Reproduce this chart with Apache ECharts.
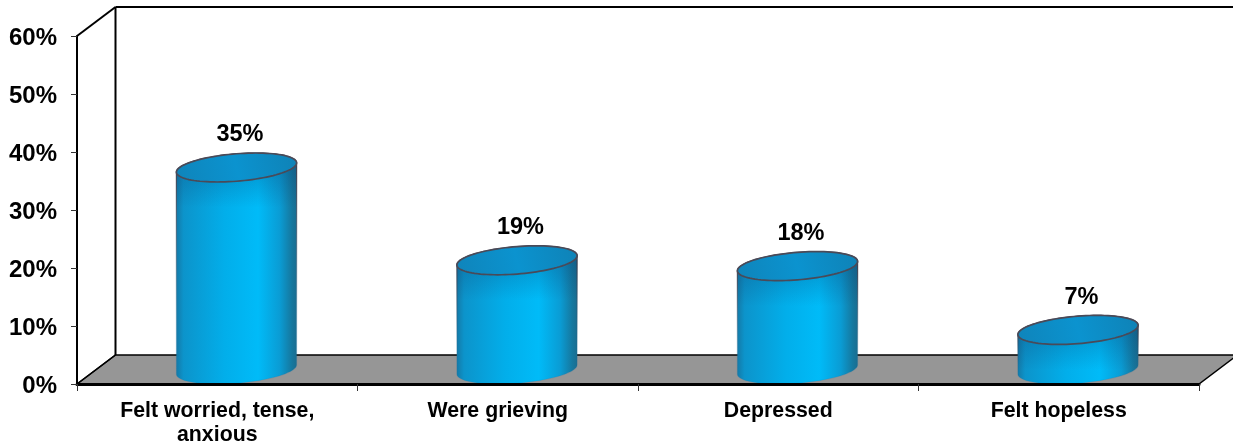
<!DOCTYPE html>
<html>
<head>
<meta charset="utf-8">
<script src="https://cdn.jsdelivr.net/npm/echarts@6/dist/echarts.min.js"></script>
<style>
html,body{margin:0;padding:0;background:#fff}
#chart{width:1233px;height:445px}
</style>
</head>
<body>
<div id="chart"></div>
<script>
const categories = ['Felt worried, tense,\nanxious', 'Were grieving', 'Depressed', 'Felt hopeless'];
const shares = [35, 19, 18, 7];
const axisMax = 60;
const axisStep = 10;

// Oblique projection of the chart box: how far the back wall sits from the front plane.
const DEPTH_X = 38.5;
const DEPTH_Y = -29;
const CYLINDER_RATIO = 0.406;
const FONT = '"Liberation Sans", Arial, sans-serif';

const chart = echarts.init(document.getElementById('chart'), null, {renderer: 'canvas'});

// A circle lying on the floor plane, seen through the oblique projection.
function ring(cx, cy, a, from, to, steps) {
  const pts = [];
  for (let i = 0; i <= steps; i++) {
    const t = from + (to - from) * i / steps;
    pts.push([cx + a * Math.cos(t) + (DEPTH_X / 2) * Math.sin(t),
              cy + (DEPTH_Y / 2) * Math.sin(t)]);
  }
  return pts;
}

function renderFrame(params, api) {
  const left = params.coordSys.x;
  const w = params.coordSys.width;
  const floorY = api.coord([0, 0])[1];
  const topY = api.coord([0, axisMax])[1];
  const bx = left + DEPTH_X, by = floorY + DEPTH_Y, ty = topY + DEPTH_Y;
  const line = (x1, y1, x2, y2, width) => ({
    type: 'line',
    shape: {x1, y1, x2, y2},
    style: {stroke: '#000', lineWidth: width || 2}
  });
  return {
    type: 'group',
    children: [
      {type: 'polygon',
       shape: {points: [[left, floorY], [bx, by], [bx + w, by], [left + w, floorY]]},
       style: {fill: '#969696', stroke: '#000', lineWidth: 1.5}},
      line(bx, by, bx, ty),
      line(bx, ty, bx + w, ty),
      line(left, topY, bx, ty),
      line(left, floorY, bx, by, 1.5)
    ]
  };
}

function renderCylinder(params, api) {
  const value = api.value(1);
  const front = api.coord([api.value(0), value]);
  const base = api.coord([api.value(0), 0]);
  const a = api.size([1, 0])[0] * CYLINDER_RATIO / 2;
  const cx = front[0] + DEPTH_X / 2;
  const topY = front[1] + DEPTH_Y / 2 + 1;
  const baseY = base[1] + DEPTH_Y / 2;
  const edge = Math.atan2(DEPTH_X / 2, a);

  // Silhouette: left to right along the front of the base, then back along the lid.
  const lower = ring(cx, baseY, a, Math.PI + edge, 2 * Math.PI + edge, 48);
  const upper = ring(cx, topY, a, edge, Math.PI + edge, 48);
  const outline = lower.concat(upper);
  const lid = ring(cx, topY, a, 0, 2 * Math.PI, 96);

  return {
    type: 'group',
    children: [
      {type: 'polygon',
       shape: {points: outline},
       style: {
         fill: {type: 'linear', x: 0, y: 0, x2: 1, y2: 0, colorStops: [
           {offset: 0, color: '#147aa8'},
           {offset: 0.06, color: '#0c94cb'},
           {offset: 0.4, color: '#02aeea'},
           {offset: 0.68, color: '#00bbf8'},
           {offset: 0.86, color: '#0a9cd4'},
           {offset: 0.96, color: '#15789f'},
           {offset: 1, color: '#1a6d90'}
         ]}
       }},
      // Darkening just under the lid, fading out down the side of the cylinder.
      {type: 'polygon',
       shape: {points: outline},
       style: {
         fill: {type: 'linear', global: true, x: 0, y: topY, x2: 0, y2: baseY + 15, colorStops: [
           {offset: 0, color: 'rgba(10,60,110,0.3)'},
           {offset: Math.min(0.9, 40 / (baseY + 15 - topY)), color: 'rgba(10,60,110,0)'},
           {offset: 1, color: 'rgba(10,60,110,0)'}
         ]},
         stroke: {type: 'linear', global: true, x: 0, y: topY, x2: 0, y2: baseY + 10, colorStops: [
           {offset: 0, color: 'rgba(60,60,75,0.9)'},
           {offset: 0.7, color: 'rgba(40,100,135,0.3)'},
           {offset: 1, color: 'rgba(10,110,170,0.15)'}
         ]},
         lineWidth: 1.2
       }},
      {type: 'polygon',
       shape: {points: lid},
       style: {
         fill: {type: 'linear', x: 0, y: 1, x2: 1, y2: 0, colorStops: [
           {offset: 0, color: '#0f84ba'},
           {offset: 0.5, color: '#0b93cf'},
           {offset: 1, color: '#0f82b6'}
         ]},
         stroke: '#4a4a58', lineWidth: 1.7
       }},
      {type: 'text',
       style: {
         x: cx + 3.5, y: topY - 32.5,
         text: value + '%',
         fill: '#000',
         font: 'bold 23.5px ' + FONT,
         align: 'center', verticalAlign: 'middle'
       }}
    ]
  };
}

chart.setOption({
  animation: false,
  backgroundColor: '#fff',
  grid: {left: 77, right: 34, top: 36, bottom: 61, outerBoundsMode: 'none'},
  xAxis: {
    type: 'category',
    data: categories,
    z: 5,
    axisLine: {lineStyle: {color: '#000', width: 3}},
    axisTick: {show: true, alignWithLabel: false, length: 7, lineStyle: {color: '#333', width: 1}},
    axisLabel: {
      color: '#000', fontFamily: FONT, fontWeight: 'bold', fontSize: 21.3,
      lineHeight: 24, margin: 15, interval: 0
    }
  },
  yAxis: {
    type: 'value',
    min: 0,
    max: axisMax,
    interval: axisStep,
    z: 5,
    splitLine: {show: false},
    axisLine: {show: true, lineStyle: {color: '#000', width: 2}},
    axisTick: {show: true, length: 6, lineStyle: {color: '#333', width: 1}},
    axisLabel: {
      color: '#000', fontFamily: FONT, fontWeight: 'bold', fontSize: 24,
      margin: 20, verticalAlign: 'top', lineHeight: 5, formatter: '{value}%'
    }
  },
  series: [
    {type: 'custom', name: 'frame', renderItem: renderFrame, data: [[0, 0]], silent: true, z: 1, clip: false},
    {type: 'custom', name: 'share', renderItem: renderCylinder, data: shares.map((v, i) => [i, v]), z: 2, clip: false,
     encode: {x: 0, y: 1}}
  ]
});
</script>
</body>
</html>
